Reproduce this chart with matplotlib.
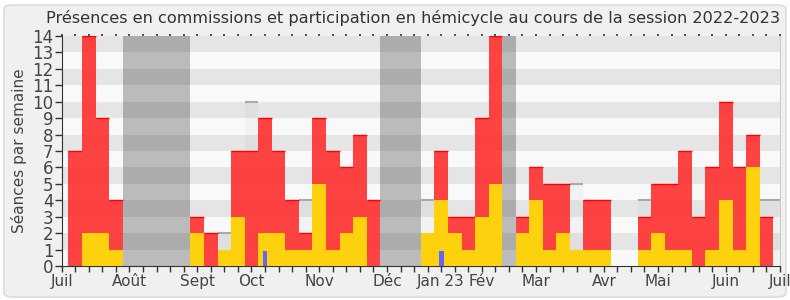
import matplotlib.pyplot as plt
from matplotlib.patches import FancyBboxPatch

plt.rcParams['font.family'] = ['DejaVu Sans']

# weeks of the session, 1 = first week of july 2022
weeks = list(range(1, 53))
commission = [7, 14, 9, 4, 0, 0, 0, 0, 0, 3, 2, 0, 7, 7, 9, 7, 4, 2, 9, 7,
              6, 8, 4, 0, 0, 0, 0, 7, 3, 3, 9, 14, 0, 3, 6, 5, 5, 0, 4, 4,
              0, 0, 3, 5, 5, 7, 3, 6, 10, 6, 8, 3]
hemicycle = [0, 2, 2, 1, 0, 0, 0, 0, 0, 2, 0, 1, 3, 0, 2, 2, 1, 1, 5, 1,
             2, 3, 0, 0, 0, 0, 2, 4, 2, 1, 3, 5, 0, 2, 4, 1, 2, 1, 1, 1,
             0, 0, 1, 2, 1, 1, 0, 1, 4, 1, 6, 0]
question_weeks = [15, 28]
question_values = [0.9, 0.9]
# median presence of all deputies (only where it shows)
median_weeks = [12, 14, 18, 27, 38, 43, 52, 53]
median_values = [2, 10, 4, 4, 5, 4, 4, 4]
# vacation weeks (first, last)
vacations = [(5, 9), (24, 26), (33, 33)]
month_labels = ['Juil', 'Août', 'Sept', 'Oct', 'Nov', 'Déc', 'Jan 23', 'Fév',
                'Mar', 'Avr', 'Mai', 'Juin', 'Juil']
month_pos = [0, 5, 10, 14, 19, 24, 28, 31, 35, 40, 44, 49, 53]

W, H = 790, 300
fig = plt.figure(figsize=(W / 100, H / 100), dpi=100, facecolor='white')
panel = FancyBboxPatch((4 / W, 3 / H), 782 / W, 292 / H,
                       boxstyle='round,pad=0,rounding_size=0.012',
                       transform=fig.transFigure, facecolor='#f0f0f0',
                       edgecolor='#dcdcdc', lw=1.2, zorder=-10)
fig.patches.append(panel)

ax = fig.add_axes([61.7 / W, 34 / H, (780 - 61.7) / W, (266 - 36) / H])
ax.set_facecolor('#f9f9f9')

for a, b in vacations:
    ax.axvspan(a - 0.5, b + 0.5, color='#bbbbbb', lw=0, zorder=0.5)
for k in range(1, 14, 2):
    ax.axhspan(k, k + 1, color='black', alpha=0.08, lw=0, zorder=1)

# median
ax.bar(median_weeks, median_values, width=1, color=(0.5, 0.5, 0.5, 0.05), lw=0, zorder=2)
ax.hlines(median_values, [w - 0.5 for w in median_weeks], [w + 0.5 for w in median_weeks],
          color='#aaaaaa', lw=1.5, zorder=2.1)

# commissions
ax.bar(weeks, commission, width=1, color='#ff3333', alpha=0.92, lw=0, zorder=3)
top_w = [w for w, c in zip(weeks, commission) if c > 0]
top_c = [c for c in commission if c > 0]
ax.hlines(top_c, [w - 0.5 for w in top_w], [w + 0.5 for w in top_w],
          color='#ff0000', lw=1, zorder=3.1)

# hemicycle
ax.bar(weeks, hemicycle, width=1, color='#fdd10d', lw=0, zorder=4)
ax.bar(question_weeks, question_values, width=0.35, color='#6464ff', lw=0, zorder=5)

ax.set_xlim(0, 53)
ax.set_ylim(0, 14)
ax.set_yticks(range(0, 15))
ax.set_xticks(month_pos)
ax.set_xticklabels(month_labels)
ax.set_xticks(range(0, 54), minor=True)
ax.tick_params(axis='x', which='both', length=4.5, width=1, color='#333333',
               labelsize=11, labelcolor='#444444', pad=1)
ax.tick_params(axis='y', length=5, width=1, color='#333333',
               labelsize=12, labelcolor='#444444', pad=1)
ax.set_ylabel('Séances par semaine', fontsize=11, color='#444444', labelpad=4)

sec = ax.secondary_xaxis('top')
sec.set_xticks(range(0, 54))
sec.tick_params(length=1.5, width=1.2, color='#333333', labeltop=False)
sec.spines['top'].set_visible(False)

ax.spines['top'].set_visible(False)
ax.spines['right'].set_color('#cccccc')
ax.spines['left'].set_color('#333333')
ax.spines['bottom'].set_color('#333333')

fig.text(0.5234, 0.94, 'Présences en commissions et participation en hémicycle au cours de la session 2022-2023',
         ha='center', va='center', fontsize=11.6, color='#333333')

fig.savefig('out.png', dpi=100, facecolor=fig.get_facecolor())
